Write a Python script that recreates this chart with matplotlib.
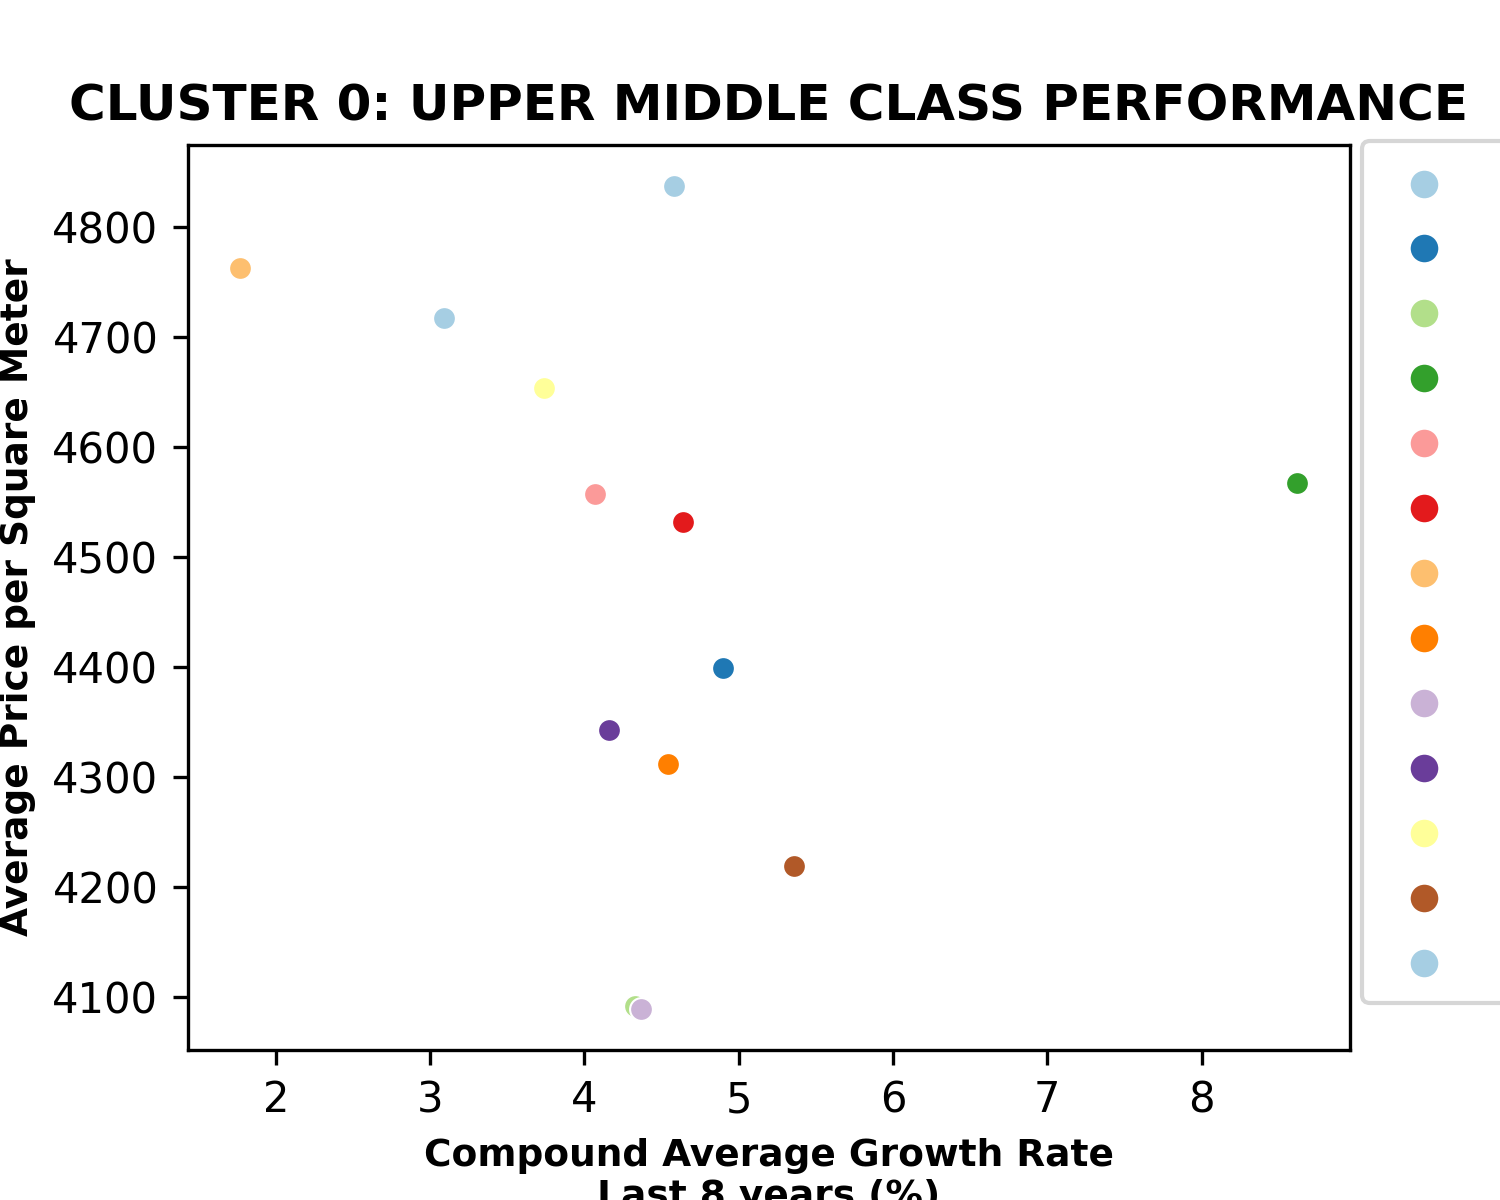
import matplotlib
matplotlib.use("Agg")
import matplotlib.pyplot as plt
import seaborn as sns

names = ["Centro", "Chamartín", "Chamberí", "Ciudad Lineal", "Carabanchel", "Castellana",
         "Latina", "Hortaleza", "Moncloa", "Retiro", "Barajas", "Salamanca", "San Blas"]
growth = [4.58, 4.90, 4.33, 8.62, 4.07, 4.64, 1.77, 4.54, 4.37, 4.16, 3.74, 5.36, 3.09]
price = [4837, 4399, 4092, 4567, 4557, 4532, 4763, 4312, 4089, 4343, 4654, 4219, 4717]

colors = sns.color_palette("Paired", 12)
fig, ax = plt.subplots(figsize=(5, 4), dpi=300)
for i, (n, g, p) in enumerate(zip(names, growth, price)):
    ax.scatter(g, p, color=colors[i % 12], s=30, edgecolor="white", linewidth=0.5, label=n)
ax.set_title("CLUSTER 0: UPPER MIDDLE CLASS PERFORMANCE", fontsize=12, fontweight="heavy")
ax.set_xlabel("Compound Average Growth Rate\nLast 8 years (%)", fontsize=9, fontweight="heavy")
ax.set_ylabel("Average Price per Square Meter", fontsize=9, fontweight="heavy")
ax.set_xticks([2, 3, 4, 5, 6, 7, 8])
ax.legend(loc="upper left", bbox_to_anchor=(1.01, 1.005), markerscale=1.3, borderaxespad=0,
          fontsize=10, handletextpad=2.2, borderpad=0.5, handlelength=2.0, labelspacing=0.55)
plt.subplots_adjust(left=0.125, right=0.9, top=0.879, bottom=0.125)
fig.savefig("out.png", dpi=300)
